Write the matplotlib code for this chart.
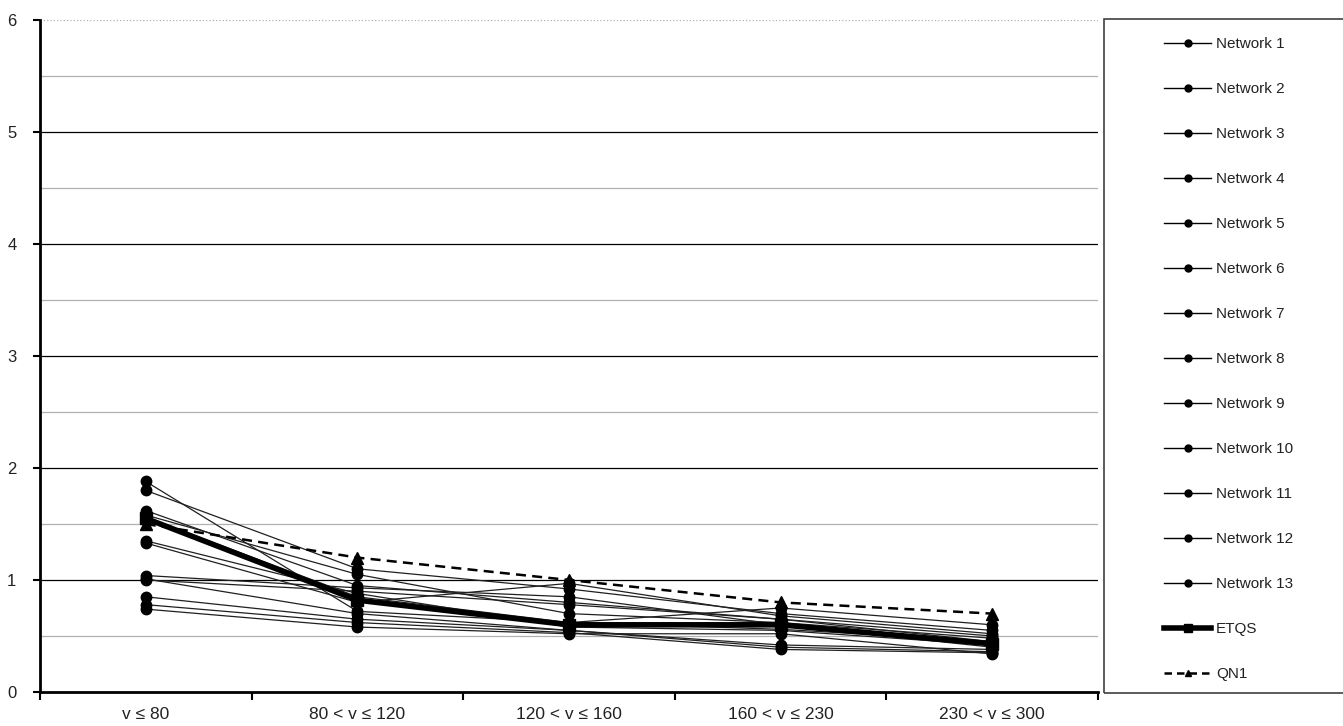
import numpy as np
import matplotlib.pyplot as plt
from matplotlib.lines import Line2D
from matplotlib.patches import Rectangle

plt.rcParams['font.family'] = ['Liberation Sans', 'DejaVu Sans']

categories = ['v ≤ 80', '80 < v ≤ 120', '120 < v ≤ 160', '160 < v ≤ 230', '230 < v ≤ 300']

net1 = [1.88, 0.72, 0.62, 0.56, 0.45]
net2 = [1.80, 1.10, 0.92, 0.70, 0.55]
net3 = [1.62, 0.95, 0.80, 0.65, 0.50]
net4 = [1.58, 1.05, 0.70, 0.62, 0.48]
net5 = [1.56, 0.85, 0.62, 0.75, 0.60]
net6 = [1.35, 0.88, 0.58, 0.55, 0.42]
net7 = [1.33, 0.80, 0.97, 0.68, 0.52]
net8 = [1.04, 0.93, 0.85, 0.60, 0.40]
net9 = [1.01, 0.70, 0.55, 0.42, 0.38]
net10 = [1.00, 0.90, 0.78, 0.65, 0.45]
net11 = [0.85, 0.65, 0.55, 0.40, 0.36]
net12 = [0.78, 0.62, 0.53, 0.38, 0.35]
net13 = [0.74, 0.58, 0.52, 0.52, 0.34]
etqs = [1.55, 0.82, 0.60, 0.60, 0.43]
qn1 = [1.50, 1.20, 1.00, 0.80, 0.70]

networks = [net1, net2, net3, net4, net5, net6, net7, net8, net9, net10,
            net11, net12, net13]
net_labels = ['Network %d' % (i + 1) for i in range(len(networks))]

fig = plt.figure(figsize=(13.43, 7.26), dpi=100)
ax = fig.add_axes([40 / 1343, 34 / 726, 1058 / 1343, 672 / 726])

x = np.arange(len(categories))

# gridlines
for v in np.arange(0.5, 6.0, 0.5):
    if v == int(v):
        ax.axhline(v, color='black', lw=0.9, zorder=0)
    else:
        ax.axhline(v, color='#b0b0b0', lw=0.9, zorder=0)
ax.axhline(6, color='#b0b0b0', lw=0.9, ls=':', zorder=0)

for vals in networks:
    ax.plot(x, vals, color='#202020', lw=0.9, marker='o', ms=7.5,
            mec='black', mfc='black', zorder=3)
ax.plot(x, etqs, color='black', lw=4, marker='s', ms=8, zorder=4)
ax.plot(x, qn1, color='black', lw=1.8, ls=(0, (4, 2.5)), marker='^', ms=8,
        zorder=4)

ax.set_xlim(-0.5, len(categories) - 0.5)
ax.set_ylim(0, 6)
ax.set_xticks(np.arange(-0.5, len(categories)), minor=False)
ax.set_xticklabels([])
ax.set_xticks(x, minor=True)
ax.set_xticklabels(categories, minor=True, fontsize=12.5, color='#222222')
ax.tick_params(axis='x', which='major', direction='out', length=6, width=1.5)
ax.tick_params(axis='x', which='minor', length=0, pad=11)
ax.set_yticks(range(0, 7))
ax.tick_params(axis='y', direction='out', length=5, width=1.5, labelsize=12,
               labelcolor='#222222', pad=12)
ax.spines['left'].set_linewidth(2)
ax.spines['bottom'].set_linewidth(2)
ax.spines['top'].set_visible(False)
ax.spines['right'].set_visible(False)

# legend panel
lax = fig.add_axes([1104 / 1343, 33 / 726, 0.2, 674 / 726])
lax.set_xlim(0, 1)
lax.set_ylim(0, 1)
lax.axis('off')
lax.add_patch(Rectangle((0, 0), 1.2, 1, fill=False, ec='#404040', lw=1.2,
                        transform=lax.transAxes, clip_on=False))

handles = [Line2D([], [], color='black', lw=1, marker='o', ms=5)
           for _ in networks]
handles.append(Line2D([], [], color='black', lw=4, marker='s', ms=6))
handles.append(Line2D([], [], color='black', lw=1.8, ls=(0, (3, 2)),
                      marker='^', ms=5))
labels = net_labels + ['ETQS', 'QN1']
leg = lax.legend(handles, labels, loc='upper left', bbox_to_anchor=(0.2, 0.982),
                 frameon=False, fontsize=11, labelspacing=2.03, handlelength=3.1,
                 handletextpad=0.3, borderaxespad=0)
for t in leg.get_texts():
    t.set_color('#222222')

fig.savefig('out.png', dpi=100)
